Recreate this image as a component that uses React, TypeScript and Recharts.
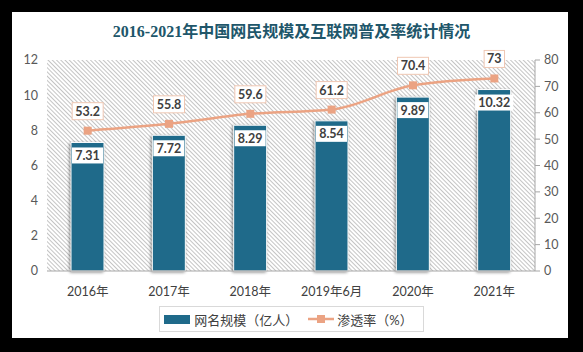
import React from "react";
import {
    ComposedChart,
    Bar,
    Line,
    XAxis,
    YAxis,
    CartesianGrid,
    Legend,
    LabelList,
} from "recharts";

// values
const periods = ["2016年", "2017年", "2018年", "2019年6月", "2020年", "2021年"];
const netizens = [7.31, 7.72, 8.29, 8.54, 9.89, 10.32];
const penetration = [53.2, 55.8, 59.6, 61.2, 70.4, 73];
const leftTicks = [0, 2, 4, 6, 8, 10, 12];
const rightTicks = [0, 10, 20, 30, 40, 50, 60, 70, 80];

const data = periods.map((name, i) => ({
    name,
    users: netizens[i],
    rate: penetration[i],
}));

const BAR_COLOR = "#1f6a8a";
const LINE_COLOR = "#eba383";
const TEXT = "#404040";
const FONT = 'Lato, "Noto Sans CJK SC", sans-serif';

const boxWidth = (v: string) => {
    let w = 0;
    for (const ch of v) w += ch === "." ? 3.4 : 7.2;
    return w + 6;
};

const BarValue = (props: any) => {
    const { x, y, width, value } = props;
    const txt = String(value);
    const w = boxWidth(txt);
    const cx = x + width / 2;
    return (
        <g>
            <rect x={cx - w / 2} y={y + 5} width={w} height={16} fill="#fff" />
            <text x={cx} y={y + 17.5} textAnchor="middle" fontSize={12.5} fontWeight="bold" fill={TEXT} fontFamily={FONT}>
                {txt}
            </text>
        </g>
    );
};

const RateValue = (props: any) => {
    const { x, y, value } = props;
    const txt = String(value);
    const w = boxWidth(txt);
    return (
        <g>
            <rect x={x - w / 2} y={y - 28} width={w} height={17} fill="#fff" stroke="#efc7b3" strokeWidth={1} />
            <text x={x} y={y - 15} textAnchor="middle" fontSize={12.5} fontWeight="bold" fill={TEXT} fontFamily={FONT}>
                {txt}
            </text>
        </g>
    );
};

const SquareDot = (props: any) => {
    const { cx, cy, index } = props;
    return <rect key={index} x={cx - 4} y={cy - 4} width={8} height={8} fill={LINE_COLOR} />;
};

const LegendBox = () => (
    <div
        style={{
            display: "flex",
            justifyContent: "center",
        }}
    >
        <div
            style={{
                display: "flex",
                alignItems: "center",
                border: "1px solid #d9d9d9",
                height: 24,
                padding: "0 10px 0 4px",
                fontFamily: FONT,
                fontSize: 13,
                color: TEXT,
                background: "#fff",
            }}
        >
            <span style={{ display: "inline-block", width: 26, height: 9, background: BAR_COLOR, marginRight: 4 }} />
            <span>网名规模（亿人）</span>
            <svg width={26} height={10} style={{ margin: "0 3px 0 10px" }}>
                <line x1={0} y1={5} x2={26} y2={5} stroke={LINE_COLOR} strokeWidth={2.5} />
                <rect x={9} y={1} width={8} height={8} fill={LINE_COLOR} />
            </svg>
            <span>渗透率（%）</span>
        </div>
    </div>
);

export default function App() {
    return (
        <div style={{ position: "absolute", left: 0, top: 0, width: 583, height: 352, background: "#000" }}>
            <svg width={0} height={0} style={{ position: "absolute" }}>
                <defs>
                    <pattern id="hatch" patternUnits="userSpaceOnUse" width={3} height={3} patternTransform="rotate(-45)">
                        <line x1={0.5} y1={0} x2={0.5} y2={3} stroke="#c4c4c4" strokeWidth={1} />
                    </pattern>
                </defs>
            </svg>
            <div style={{ position: "absolute", left: 12, top: 12, width: 556, height: 326, background: "#fff" }} />
            <div
                style={{
                    position: "absolute",
                    left: 0,
                    top: 22,
                    width: 583,
                    textAlign: "center",
                    fontFamily: '"Liberation Serif", "Noto Sans CJK SC", serif',
                    fontWeight: "bold",
                    fontSize: 16,
                    color: "#20566a",
                    lineHeight: "20px",
                }}
            >
                2016-2021年中国网民规模及互联网普及率统计情况
            </div>
            <div style={{ position: "absolute", left: 0, top: 0 }}>
                <ComposedChart
                    width={583}
                    height={352}
                    data={data}
                    margin={{ top: 60, right: 0, left: 0, bottom: 18 }}
                >
                    <CartesianGrid horizontal={false} vertical={false} fill="url(#hatch)" />
                    <XAxis
                        dataKey="name"
                        height={35}
                        axisLine={{ stroke: "#a6a6a6" }}
                        tickLine={false}
                        tickSize={0}
                        tickMargin={16}
                        tick={{ fill: TEXT, fontSize: 12.5, fontFamily: FONT }}
                        interval={0}
                    />
                    <YAxis
                        yAxisId="left"
                        domain={[0, 12]}
                        ticks={leftTicks}
                        width={47}
                        axisLine={false}
                        tickLine={false}
                        tickSize={0}
                        tickMargin={9}
                        tick={{ fill: "#595959", fontSize: 12.5, fontFamily: FONT }}
                    />
                    <YAxis
                        yAxisId="right"
                        orientation="right"
                        domain={[0, 80]}
                        ticks={rightTicks}
                        width={48}
                        axisLine={{ stroke: "#a6a6a6" }}
                        tickLine={{ stroke: "#a6a6a6" }}
                        tickSize={5}
                        tickMargin={4}
                        tick={{ fill: "#595959", fontSize: 12.5, fontFamily: FONT }}
                    />
                    <Legend verticalAlign="bottom" height={28} content={<LegendBox />} />
                    <Bar
                        yAxisId="left"
                        dataKey="users"
                        name="网名规模（亿人）"
                        fill={BAR_COLOR}
                        stroke="#fff"
                        strokeWidth={1}
                        barSize={33}
                        style={{ filter: "drop-shadow(-1px 1px 1.5px rgba(0,0,0,0.45))" }}
                        isAnimationActive={false}
                    >
                        <LabelList dataKey="users" content={<BarValue />} />
                    </Bar>
                    <Line
                        yAxisId="right"
                        type="monotone"
                        dataKey="rate"
                        name="渗透率（%）"
                        stroke={LINE_COLOR}
                        strokeWidth={2.5}
                        dot={<SquareDot />}
                        activeDot={false}
                        isAnimationActive={false}
                    >
                        <LabelList dataKey="rate" content={<RateValue />} />
                    </Line>
                </ComposedChart>
            </div>
        </div>
    );
}
